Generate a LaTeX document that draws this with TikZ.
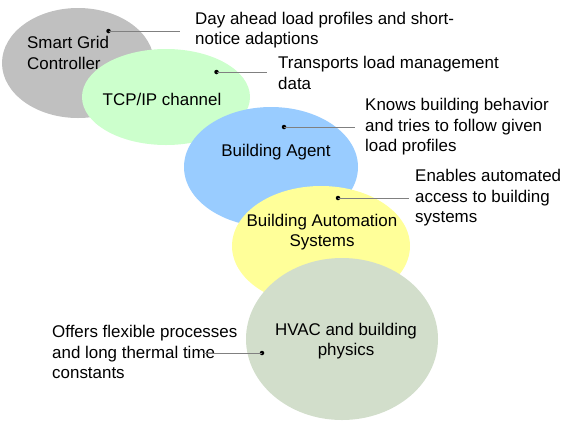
\documentclass[tikz,border=0pt]{standalone}
\usepackage{fontspec}
\setmainfont{Liberation Sans}
\usetikzlibrary{shapes.geometric}
\definecolor{cgray}{HTML}{C0C0C0}
\definecolor{cgreen}{HTML}{CCFFCC}
\definecolor{cblue}{HTML}{99CCFF}
\definecolor{cyellow}{HTML}{FFFF99}
\definecolor{chvac}{HTML}{D2DECB}
\definecolor{cline}{HTML}{808080}
\tikzset{
  layer/.style={ellipse, draw=none, inner sep=0pt},
  lbl/.style={font=\fontsize{17}{20.5}\selectfont, inner sep=0pt, align=center},
  note/.style={font=\fontsize{17}{20.5}\selectfont, inner sep=0pt, align=left, anchor=west},
  dotn/.style={circle, fill=black, inner sep=0pt, minimum size=4.5bp},
  conn/.style={draw=cline, line width=0.8bp}
}
\begin{document}
\begin{tikzpicture}[x=1bp, y=-1bp]
\useasboundingbox (0,0) rectangle (563,424);
% layers
\node[layer, fill=cgray, minimum width=152bp, minimum height=110bp] (sgc) at (78,63) {};
\node[layer, fill=cgreen, minimum width=168bp, minimum height=96bp] (tcp) at (166,97) {};
\node[layer, fill=cblue, minimum width=174bp, minimum height=120bp] (ba) at (271,167) {};
\node[layer, fill=cyellow, minimum width=178bp, minimum height=120bp] (bas) at (321,246) {};
\node[layer, fill=chvac, minimum width=192bp, minimum height=162bp] (hvac) at (342,339) {};
% labels
\node[lbl, align=left, anchor=west] (sgct) at (27,53) {Smart Grid\\Controller};
\node[lbl] (tcpt) at (162,99) {TCP/IP channel};
\node[lbl] (bat) at (276,152) {Building Agent};
\node[lbl] (bast) at (322,232) {Building Automation\\Systems};
\node[lbl] (hvact) at (346,341) {HVAC and building\\physics};
% notes
\node[note] (n1) at (195,30) {Day ahead load profiles and short-\\notice adaptions};
\node[note] (n2) at (278,73) {Transports load management\\data};
\node[note] (n3) at (365,127) {Knows building behavior\\and tries to follow given\\load profiles};
\node[note] (n4) at (415,198) {Enables automated\\access to building\\systems};
\node[note] (n5) at (52,352) {Offers flexible processes\\and long thermal time\\constants};
% dots
\node[dotn] (d1) at (108.5,31) {};
\node[dotn] (d2) at (216.5,72) {};
\node[dotn] (d3) at (284,127) {};
\node[dotn] (d4) at (338,198) {};
\node[dotn] (d5) at (262,353) {};
\coordinate (e1) at (180,31);
\coordinate (e2) at (267,72);
\coordinate (e3) at (355,127);
\coordinate (e4) at (409,198);
\coordinate (e5) at (203,353);
\draw[conn] (d1.center) -- (e1);
\draw[conn] (d2.center) -- (e2);
\draw[conn] (d3.center) -- (e3);
\draw[conn] (d4.center) -- (e4);
\draw[conn] (d5.center) -- (e5);
\end{tikzpicture}
\end{document}
